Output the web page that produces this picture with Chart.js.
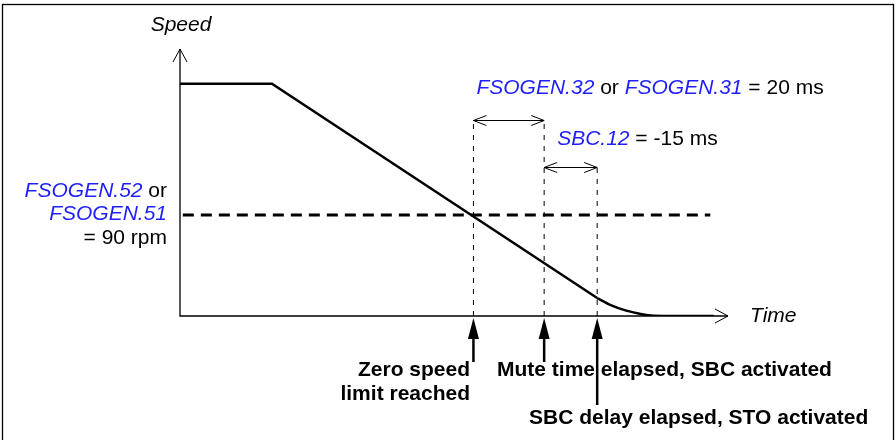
<!DOCTYPE html>
<html>
<head>
<meta charset="utf-8">
<script src="https://cdn.jsdelivr.net/npm/chart.js@4.4.1/dist/chart.umd.min.js"></script>
<style>
  html, body { margin: 0; padding: 0; background: #fff; }
  #wrap { width: 896px; height: 440px; }
</style>
</head>
<body>
<div id="wrap"><canvas id="stopChart" width="896" height="440"></canvas></div>
<script>
// time in ms, speed in rpm (schematic values)
const rampTime = [0, 26, 118];
const rampSpeed = [207, 207, 16];
const tailTime = [118, 122, 126, 130, 134, 151];
const tailSpeed = [16, 9.5, 5, 2, 0.3, 0];
const limitSpeed = 90;
const limitSpan = [0.8, 150];
const eventTimes = [83, 103, 118];     // zero speed limit, mute time over, SBC delay over
const eventTops = [175, 175, 133];
const spanLevels = [175, 133];         // FSOGEN.32/31 span, SBC.12 span
const timeMax = 155;
const speedMax = 238;

const BLUE = '#1e1eff';
const FONT = '"Liberation Sans", Arial, sans-serif';
const SIZE = '21px ';

function line(xs, ys) {
    return xs.map((x, i) => ({ x: x, y: ys[i] }));
}

function eventLine(t, top) {
    return {
        data: [{ x: t, y: 0 }, { x: t, y: top }],
        showLine: true,
        borderColor: '#000',
        borderWidth: 1,
        borderDash: [5, 6],
        pointRadius: 0,
        tension: 0
    };
}

// draws text made of black / blue-italic pieces
function drawRuns(ctx, runs, x, y, align) {
    let total = 0;
    runs.forEach(r => {
        ctx.font = (r.blue ? 'italic ' : '') + SIZE + FONT;
        r.w = ctx.measureText(r.t).width;
        total += r.w;
    });
    let cx = align === 'right' ? x - total : x;
    runs.forEach(r => {
        ctx.font = (r.blue ? 'italic ' : '') + SIZE + FONT;
        ctx.fillStyle = r.blue ? BLUE : '#000';
        ctx.fillText(r.t, cx, y);
        cx += r.w;
    });
}

function chevron(ctx, x, y, dir, len, half) {
    ctx.beginPath();
    if (dir === 'up') {
        ctx.moveTo(x - half, y + len); ctx.lineTo(x, y); ctx.lineTo(x + half, y + len);
    } else if (dir === 'right') {
        ctx.moveTo(x - len, y - half); ctx.lineTo(x, y); ctx.lineTo(x - len, y + half);
    } else {
        ctx.moveTo(x + len, y - half); ctx.lineTo(x, y); ctx.lineTo(x + len, y + half);
    }
    ctx.stroke();
}

const diagramPlugin = {
    id: 'diagram',
    beforeDatasetsDraw(chart) {
        const ctx = chart.ctx;
        const a = chart.chartArea;
        ctx.save();
        ctx.strokeStyle = '#000';
        ctx.lineWidth = 1.3;
        // frame
        ctx.strokeRect(2.5, 4.5, 891, 450);
        // axes
        ctx.beginPath();
        ctx.moveTo(a.left, a.top);
        ctx.lineTo(a.left, a.bottom);
        ctx.lineTo(a.right, a.bottom);
        ctx.stroke();
        ctx.lineWidth = 1;
        chevron(ctx, a.left, a.top, 'up', 13, 7);
        chevron(ctx, a.right, a.bottom, 'right', 13, 7);
        ctx.restore();
    },
    afterDatasetsDraw(chart) {
        const ctx = chart.ctx;
        const a = chart.chartArea;
        const xs = chart.scales.x, ys = chart.scales.y;
        ctx.save();
        ctx.strokeStyle = '#000';
        ctx.fillStyle = '#000';

        // double arrows between event lines
        ctx.lineWidth = 1;
        spanLevels.forEach((lvl, i) => {
            const x1 = xs.getPixelForValue(eventTimes[i]);
            const x2 = xs.getPixelForValue(eventTimes[i + 1]);
            const y = Math.round(ys.getPixelForValue(lvl)) + 0.5;
            ctx.beginPath();
            ctx.moveTo(x1, y); ctx.lineTo(x2, y);
            ctx.stroke();
            chevron(ctx, x1, y, 'left', 13, 5);
            chevron(ctx, x2, y, 'right', 13, 5);
        });

        // filled arrows under the time axis
        const stemEnds = [362, 362, 405];
        eventTimes.forEach((t, i) => {
            const x = xs.getPixelForValue(t);
            const tip = a.bottom + 2;
            ctx.beginPath();
            ctx.moveTo(x, tip);
            ctx.lineTo(x - 5.5, tip + 21);
            ctx.lineTo(x + 5.5, tip + 21);
            ctx.closePath();
            ctx.fill();
            ctx.lineWidth = 2.5;
            ctx.beginPath();
            ctx.moveTo(x, tip + 18);
            ctx.lineTo(x, stemEnds[i]);
            ctx.stroke();
        });

        ctx.textBaseline = 'middle';
        // axis titles
        ctx.font = 'italic ' + SIZE + FONT;
        ctx.textAlign = 'center';
        ctx.fillText('Speed', a.left + 1, 25);
        ctx.textAlign = 'left';
        ctx.fillText('Time', a.right + 22, a.bottom);

        // parameter labels
        drawRuns(ctx, [{ t: 'FSOGEN.32', blue: true }, { t: ' or ' }, { t: 'FSOGEN.31', blue: true }, { t: ' = 20 ms' }],
            xs.getPixelForValue(eventTimes[0]) + 3, 88, 'left');
        drawRuns(ctx, [{ t: 'SBC.12', blue: true }, { t: ' = -15 ms' }],
            xs.getPixelForValue(eventTimes[1]) + 13, 139, 'left');
        const lx = a.left - 13;
        drawRuns(ctx, [{ t: 'FSOGEN.52', blue: true }, { t: ' or' }], lx, 191, 'right');
        drawRuns(ctx, [{ t: 'FSOGEN.51', blue: true }], lx, 214, 'right');
        drawRuns(ctx, [{ t: '= 90 rpm' }], lx, 238, 'right');

        // event captions
        ctx.fillStyle = '#000';
        ctx.font = 'bold ' + SIZE + FONT;
        ctx.textAlign = 'right';
        ctx.fillText('Zero speed', 470, 370);
        ctx.fillText('limit reached', 470, 394);
        ctx.textAlign = 'left';
        ctx.fillText('Mute time elapsed, SBC activated', 497, 370);
        ctx.fillText('SBC delay elapsed, STO activated', 529, 418);
        ctx.restore();
    }
};

new Chart(document.getElementById('stopChart'), {
    type: 'scatter',
    data: {
        datasets: [
            {
                data: line(rampTime, rampSpeed),
                showLine: true,
                borderColor: '#000',
                borderWidth: 2.5,
                pointRadius: 0,
                tension: 0
            },
            {
                data: line(tailTime, tailSpeed),
                showLine: true,
                borderColor: '#000',
                borderWidth: 2.5,
                pointRadius: 0,
                cubicInterpolationMode: 'monotone'
            },
            {
                data: [{ x: limitSpan[0], y: limitSpeed }, { x: limitSpan[1], y: limitSpeed }],
                showLine: true,
                borderColor: '#000',
                borderWidth: 3,
                borderDash: [11, 7],
                pointRadius: 0
            },
            eventLine(eventTimes[0], eventTops[0]),
            eventLine(eventTimes[1], eventTops[1]),
            eventLine(eventTimes[2], eventTops[2])
        ]
    },
    options: {
        responsive: false,
        animation: false,
        events: [],
        layout: {
            padding: { left: 180, right: 168, top: 49, bottom: 124 }
        },
        scales: {
            x: { type: 'linear', min: 0, max: timeMax, display: false },
            y: { type: 'linear', min: 0, max: speedMax, display: false }
        },
        plugins: {
            legend: { display: false },
            tooltip: { enabled: false }
        }
    },
    plugins: [diagramPlugin]
});
</script>
</body>
</html>
